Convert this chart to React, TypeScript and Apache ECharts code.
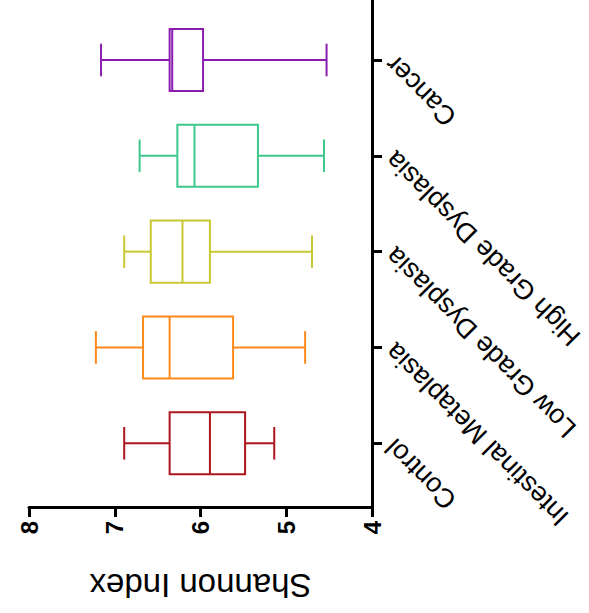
import React, { useEffect, useRef } from "react";
import * as echarts from "echarts";

// Groups, bottom to top
const categories = [
  "Control",
  "Intestinal Metaplasia",
  "Low Grade Dysplasia",
  "High Grade Dysplasia",
  "Cancer",
];

// Five-number summaries of the Shannon index per group
const whiskerLow = [5.14, 4.78, 4.7, 4.56, 4.53];
const quartile1 = [5.48, 5.62, 5.89, 5.33, 5.97];
const medians = [5.89, 6.36, 6.21, 6.07, 6.33];
const quartile3 = [6.36, 6.67, 6.58, 6.27, 6.36];
const whiskerHigh = [6.89, 7.22, 6.89, 6.71, 7.16];

const groupColors = ["#ab171d", "#ff8a1c", "#c8c832", "#3dc98b", "#8a1db0"];

const categoryPositions = categories.map((_, i) => i);

export default function App() {
  const ref = useRef<HTMLDivElement>(null);

  useEffect(() => {
    if (!ref.current) return;
    const chart = echarts.init(ref.current, null, { renderer: "svg" });

    const data = categories.map((_, i) => ({
      value: [i, whiskerLow[i], quartile1[i], medians[i], quartile3[i], whiskerHigh[i]],
      itemStyle: { color: groupColors[i] },
    }));

    const renderItem = (params: any, api: any) => {
      const i = api.value(0);
      const color = groupColors[i];
      const pLo = api.coord([api.value(1), i]);
      const pQ1 = api.coord([api.value(2), i]);
      const pMed = api.coord([api.value(3), i]);
      const pQ3 = api.coord([api.value(4), i]);
      const pHi = api.coord([api.value(5), i]);
      const boxH = api.size([0, 0.648])[1];
      const capH = api.size([0, 0.34])[1];
      const y = pLo[1];
      const style = { stroke: color, lineWidth: 2, fill: "none" };
      const boxLeft = Math.min(pQ1[0], pQ3[0]);
      const boxRight = Math.max(pQ1[0], pQ3[0]);
      const line = (x1: number, y1: number, x2: number, y2: number) => ({
        type: "line",
        shape: { x1, y1, x2, y2 },
        style,
      });
      return {
        type: "group",
        children: [
          {
            type: "rect",
            shape: { x: boxLeft, y: y - boxH / 2, width: boxRight - boxLeft, height: boxH },
            style,
          },
          line(pMed[0], y - boxH / 2, pMed[0], y + boxH / 2),
          line(pLo[0], y, pQ1[0], y),
          line(pQ3[0], y, pHi[0], y),
          line(pLo[0], y - capH / 2, pLo[0], y + capH / 2),
          line(pHi[0], y - capH / 2, pHi[0], y + capH / 2),
        ],
      };
    };

    chart.setOption({
      animation: false,
      grid: { left: 29, right: 217, top: 0, bottom: 106, containLabel: false },
      xAxis: {
        type: "value",
        inverse: true,
        min: 4,
        max: 8,
        interval: 1,
        position: "bottom",
        splitLine: { show: false },
        axisLine: { show: true, onZero: false, lineStyle: { color: "#000", width: 3 } },
        axisTick: { show: true, length: 10, lineStyle: { color: "#000", width: 3 } },
        axisLabel: {
          rotate: 90,
          margin: 14,
          fontSize: 24,
          fontWeight: "bold",
          fontFamily: "Liberation Sans",
          color: "#000",
        },
        name: "Shannon Index",
        nameLocation: "middle",
        nameGap: 62,
        nameRotate: 180,
        nameTextStyle: { fontSize: 33, fontFamily: "Liberation Sans", color: "#000" },
      },
      yAxis: {
        type: "value",
        position: "right",
        min: -0.665,
        max: 4.626,
        splitLine: { show: false },
        axisLine: { show: true, onZero: false, lineStyle: { color: "#000", width: 3 } },
        axisTick: {
          show: true,
          length: 10,
          customValues: categoryPositions,
          lineStyle: { color: "#000", width: 3 },
        },
        axisLabel: {
          customValues: categoryPositions,
          formatter: (v: number) => categories[Math.round(v)] ?? "",
          rotate: 135,
          margin: 18,
          fontSize: 27,
          fontFamily: "Liberation Sans",
          color: "#000",
        },
      },
      series: [
        {
          type: "custom",
          renderItem,
          data,
          encode: { x: [1, 2, 3, 4, 5], y: 0 },
        },
      ],
    });

    return () => chart.dispose();
  }, []);

  return (
    <div
      ref={ref}
      style={{ position: "fixed", left: 0, top: 0, width: 589, height: 613, background: "#fff" }}
    />
  );
}
